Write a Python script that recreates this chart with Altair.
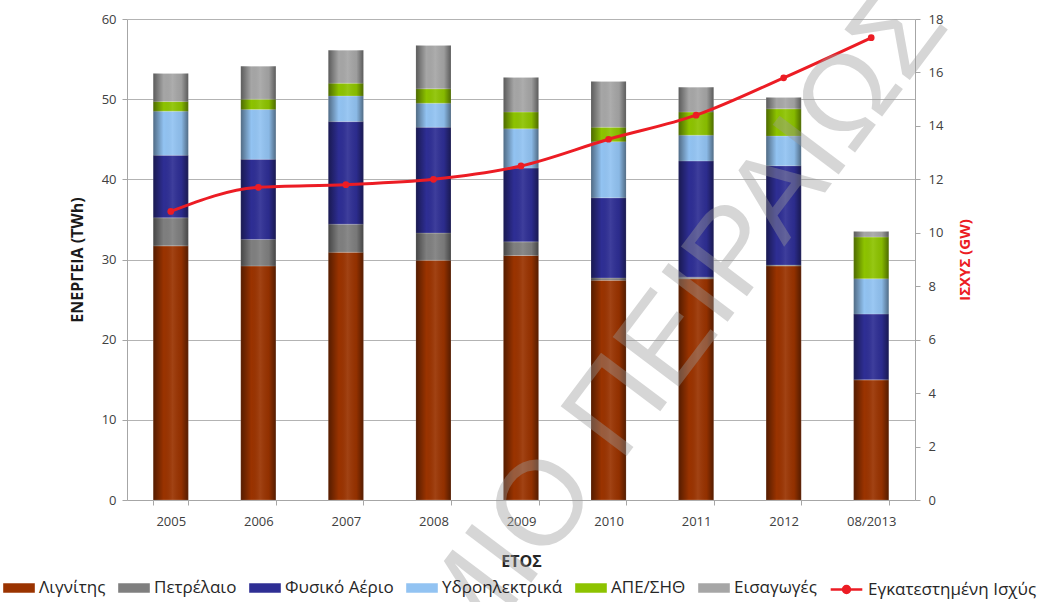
import altair as alt
import pandas as pd

# Electricity generation mix (TWh) and installed capacity (GW)
years = ["2005", "2006", "2007", "2008", "2009", "2010", "2011", "2012", "08/2013"]
sources = ["Λιγνίτης", "Πετρέλαιο", "Φυσικό Αέριο", "Υδροηλεκτρικά", "ΑΠΕ/ΣΗΘ", "Εισαγωγές"]
source_colors = ["#9A3300", "#7F7F7F", "#2E2E94", "#92C3F2", "#8DC300", "#A6A6A6"]

lignite = [31.7, 29.2, 30.9, 29.9, 30.5, 27.4, 27.6, 29.2, 15.0]
oil = [3.5, 3.3, 3.5, 3.4, 1.7, 0.3, 0.2, 0.1, 0.0]
gas = [7.8, 10.0, 12.8, 13.2, 9.2, 10.0, 14.5, 12.4, 8.2]
hydro = [5.5, 6.2, 3.2, 3.0, 4.9, 7.0, 3.2, 3.7, 4.4]
res_chp = [1.2, 1.3, 1.6, 1.8, 2.1, 1.8, 2.9, 3.4, 5.2]
imports = [3.5, 4.1, 4.1, 5.4, 4.3, 5.7, 3.1, 1.4, 0.7]

capacity_name = "Εγκατεστημένη Ισχύς"
capacity = [10.8, 11.7, 11.8, 12.0, 12.5, 13.5, 14.4, 15.8, 17.3]

series = [lignite, oil, gas, hydro, res_chp, imports]
rows = []
for k, (name, vals) in enumerate(zip(sources, series)):
    for y, v in zip(years, vals):
        rows.append({"year": y, "source": name, "value": v, "idx": k})
energy = pd.DataFrame(rows)

totals = pd.DataFrame({"year": years, "total": [sum(s[i] for s in series) for i in range(len(years))]})
power = pd.DataFrame({"year": years, "gw": capacity, "name": capacity_name})

FONT = "Open Sans"
RED = "#EC1C24"

left_axis = alt.Axis(
    title="ΕΝΕΡΓΕΙΑ (TWh)",
    values=[0, 10, 20, 30, 40, 50, 60],
    grid=True,
    gridColor="#B3B3B3",
    domainColor="#A6A6A6",
    tickColor="#A6A6A6",
    tickSize=5,
    labelFontSize=13,
    labelColor="#404040",
    labelPadding=6,
    titleFontSize=16,
    titleFontWeight="bold",
    titleColor="#1A1A1A",
    titlePadding=16,
)
energy_scale = alt.Scale(domain=[0, 60], nice=False)

x_enc = alt.X(
    "year:N",
    sort=years,
    scale=alt.Scale(paddingInner=0.6, paddingOuter=0.3),
    axis=alt.Axis(
        title="ΕΤΟΣ",
        labelAngle=0,
        tickBand="extent",
        tickSize=5,
        tickColor="#A6A6A6",
        domainColor="#A6A6A6",
        labelFontSize=13,
        labelColor="#404040",
        labelPadding=10,
        titleFontSize=16,
        titleFontWeight="bold",
        titleColor="#262626",
        titlePadding=25,
    ),
)

bars = alt.Chart(energy).mark_bar(stroke="#FFFFFF", strokeWidth=0.4, strokeOpacity=0.5).encode(
    x=x_enc,
    y=alt.Y("value:Q", stack="zero", scale=energy_scale, axis=left_axis),
    color=alt.Color(
        "source:N",
        scale=alt.Scale(domain=sources, range=source_colors),
        legend=alt.Legend(
            title=None,
            orient="none",
            direction="horizontal",
            legendX=-124,
            legendY=553,
            symbolType="M-1,-0.3H1V0.3H-1Z",
            symbolSize=1000,
            symbolStrokeWidth=0,
            labelFontSize=17,
            labelColor="#262626",
            labelLimit=300,
            columnPadding=12,
            labelOffset=4,
        ),
    ),
    order=alt.Order("idx:Q", sort="ascending"),
)

# cylinder-like shading over each column
shade = alt.Chart(totals).mark_bar(
    color=alt.Gradient(
        gradient="linear",
        x1=0, x2=1, y1=0, y2=0,
        stops=[
            alt.GradientStop(color="rgba(0,0,0,0.45)", offset=0),
            alt.GradientStop(color="rgba(0,0,0,0.0)", offset=0.3),
            alt.GradientStop(color="rgba(255,255,255,0.08)", offset=0.55),
            alt.GradientStop(color="rgba(0,0,0,0.05)", offset=0.8),
            alt.GradientStop(color="rgba(0,0,0,0.45)", offset=1),
        ],
    )
).encode(
    x=alt.X("year:N", sort=years),
    y=alt.Y("total:Q", scale=energy_scale, axis=left_axis),
)

line = alt.Chart(power).mark_line(strokeWidth=3, interpolate="monotone").encode(
    x=alt.X("year:N", sort=years),
    y=alt.Y(
        "gw:Q",
        scale=alt.Scale(domain=[0, 18], nice=False),
        axis=alt.Axis(
            orient="right",
            title="ΙΣΧΥΣ (GW)",
            values=list(range(0, 19, 2)),
            grid=False,
            domainColor="#A6A6A6",
            tickColor="#A6A6A6",
            tickSize=5,
            labelFontSize=13,
            labelColor="#404040",
            labelPadding=8,
            titleFontSize=15,
            titleFontWeight="bold",
            titleColor=RED,
            titleAngle=270,
            titlePadding=30,
        ),
    ),
    stroke=alt.Stroke(
        "name:N",
        scale=alt.Scale(domain=[capacity_name], range=[RED]),
        legend=alt.Legend(
            title=None,
            orient="none",
            legendX=702,
            legendY=553,
            symbolType="M-1,0H1M-0.22,0A0.22,0.22 0 1,0 0.22,0A0.22,0.22 0 1,0 -0.22,0",
            symbolSize=1000,
            symbolStrokeWidth=2.5,
            symbolFillColor=RED,
            labelFontSize=17,
            labelColor="#262626",
            labelLimit=300,
            labelOffset=4,
        ),
    ),
)

dots = alt.Chart(power).mark_point(filled=True, size=45, color=RED, opacity=1).encode(
    x=alt.X("year:N", sort=years),
    y=alt.Y("gw:Q"),
)

watermark = alt.Chart(pd.DataFrame({"t": ["ΠΑΝΕΠΙΣΤΗΜΙΟ ΠΕΙΡΑΙΩΣ"]})).mark_text(
    align="right",
    baseline="middle",
    angle=307,
    fontSize=120,
    font="Liberation Sans",
    fill="#9A9A9A",
    opacity=0.4,
).encode(
    text="t:N",
    x=alt.value(795),
    y=alt.value(-15),
)

chart = (
    alt.layer(alt.layer(bars, shade), alt.layer(line, dots, watermark))
    .resolve_scale(y="independent", color="independent")
    .properties(
        width=788,
        height=481,
        autosize=alt.AutoSizeParams(type="none"),
        padding={"left": 127, "top": 19, "right": 123, "bottom": 102},
        background="#FFFFFF",
    )
    .configure(font=FONT)
    .configure_view(stroke=None)
)

chart.save("out.html", embed_options={"renderer": "svg", "actions": False})
